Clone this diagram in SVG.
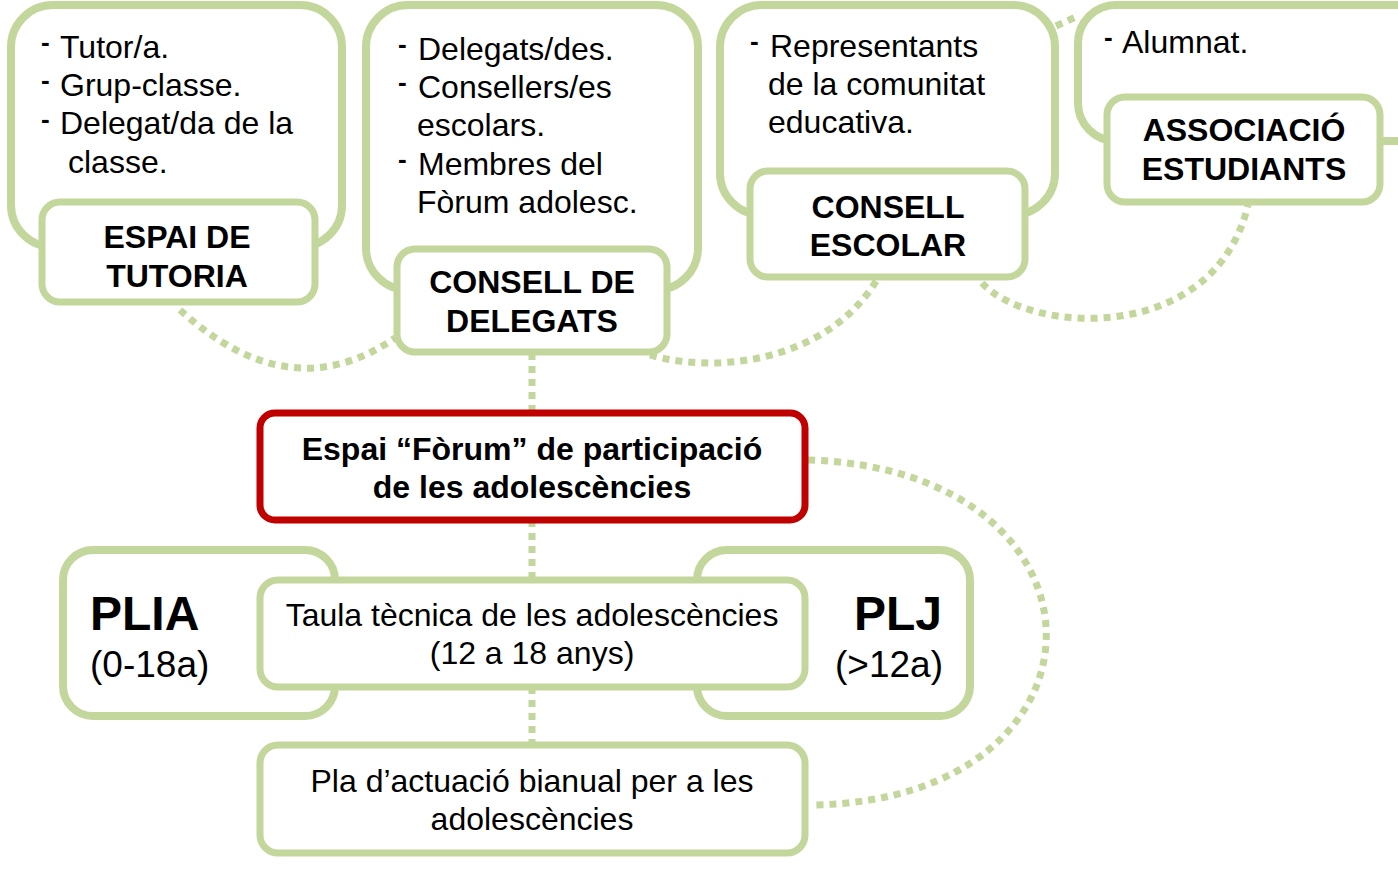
<svg xmlns="http://www.w3.org/2000/svg" width="1398" height="876" viewBox="0 0 1398 876">
<style>
.box{fill:#fff;stroke:#c3d69b;stroke-width:8}
.inner{fill:#fff;stroke:#c3d69b;stroke-width:7}
.red{fill:#fff;stroke:#c00000;stroke-width:7}
.dot{fill:none;stroke:#c3d69b;stroke-width:7;stroke-dasharray:7 6}
text{font-family:"Liberation Sans",Arial,sans-serif;fill:#000}
.t{font-size:32px}
.d{font-size:26px;font-weight:bold}
.b{font-size:32px;font-weight:bold;text-anchor:middle}
.c{font-size:32px;text-anchor:middle}
.big{font-size:48px;font-weight:bold}
.mid{font-size:37px}
</style>
<rect width="1398" height="876" fill="#fff"/>
<g id="connectors">
<path class="dot" d="M180,310 Q290,410 395,338"/>
<path class="dot" d="M650,355 C720,375 830,360 878,278"/>
<path class="dot" d="M982,283 C1030,335 1215,345 1248,205"/>
<path class="dot" d="M1056,26 L1078,16"/>
<path class="dot" d="M532,353 L532,413"/>
<path class="dot" d="M532,520 L532,580"/>
<path class="dot" d="M532,687 L532,745"/>
<path class="dot" d="M808,460 C1125,470 1125,800 812,805"/>
</g>
<g id="tutoria">
<rect class="box" x="11" y="5" width="331" height="242" rx="42"/>
<text class="d" x="41" y="51">-</text>
<text class="d" x="41" y="89">-</text>
<text class="d" x="41" y="128">-</text>
<text class="t" x="60" y="58">Tutor/a.</text>
<text class="t" x="60" y="96">Grup-classe.</text>
<text class="t" x="60" y="134">Delegat/da de la</text>
<text class="t" x="68" y="173">classe.</text>
<rect class="inner" x="42" y="202" width="273" height="100" rx="18"/>
<text class="b" x="177" y="248">ESPAI DE</text>
<text class="b" x="177" y="287">TUTORIA</text>
</g>
<g id="delegats">
<rect class="box" x="366" y="5" width="332" height="285" rx="42"/>
<text class="d" x="398" y="53">-</text>
<text class="d" x="398" y="91">-</text>
<text class="d" x="398" y="168">-</text>
<text class="t" x="418" y="60">Delegats/des.</text>
<text class="t" x="418" y="98">Consellers/es</text>
<text class="t" x="417" y="136">escolars.</text>
<text class="t" x="418" y="175">Membres del</text>
<text class="t" x="417" y="213">Fòrum adolesc.</text>
<rect class="inner" x="397" y="249" width="270" height="103" rx="18"/>
<text class="b" x="532" y="293">CONSELL DE</text>
<text class="b" x="532" y="332">DELEGATS</text>
</g>
<g id="escolar">
<rect class="box" x="720" y="5" width="335" height="210" rx="42"/>
<text class="d" x="750" y="50">-</text>
<text class="t" x="770" y="57">Representants</text>
<text class="t" x="768" y="95">de la comunitat</text>
<text class="t" x="768" y="133">educativa.</text>
<rect class="inner" x="750" y="171" width="275" height="106" rx="18"/>
<text class="b" x="888" y="218">CONSELL</text>
<text class="b" x="888" y="256">ESCOLAR</text>
</g>
<g id="associacio">
<rect class="box" x="1078" y="5" width="360" height="136" rx="38"/>
<text class="d" x="1104" y="46">-</text>
<text class="t" x="1122" y="53">Alumnat.</text>
<rect class="inner" x="1107" y="97" width="273" height="105" rx="18"/>
<text class="b" x="1244" y="141">ASSOCIACIÓ</text>
<text class="b" x="1244" y="180">ESTUDIANTS</text>
</g>
<g id="forum">
<rect class="red" x="260" y="413" width="545" height="107" rx="15"/>
<text class="b" x="532" y="460">Espai “Fòrum” de participació</text>
<text class="b" x="532" y="498">de les adolescències</text>
</g>
<g id="plia">
<rect class="box" x="63" y="550" width="272" height="166" rx="30"/>
<text class="big" x="90" y="630">PLIA</text>
<text class="mid" x="90" y="677">(0-18a)</text>
</g>
<g id="plj">
<rect class="box" x="697" y="550" width="273" height="166" rx="30"/>
<text class="big" x="942" y="630" text-anchor="end">PLJ</text>
<text class="mid" x="943" y="677" text-anchor="end">(&gt;12a)</text>
</g>
<g id="taula">
<rect class="inner" x="260" y="580" width="545" height="107" rx="18"/>
<text class="c" x="532" y="626">Taula tècnica de les adolescències</text>
<text class="c" x="532" y="664">(12 a 18 anys)</text>
</g>
<g id="pla">
<rect class="inner" x="260" y="745" width="545" height="108" rx="18"/>
<text class="c" x="532" y="792">Pla d’actuació bianual per a les</text>
<text class="c" x="532" y="830">adolescències</text>
</g>
</svg>
